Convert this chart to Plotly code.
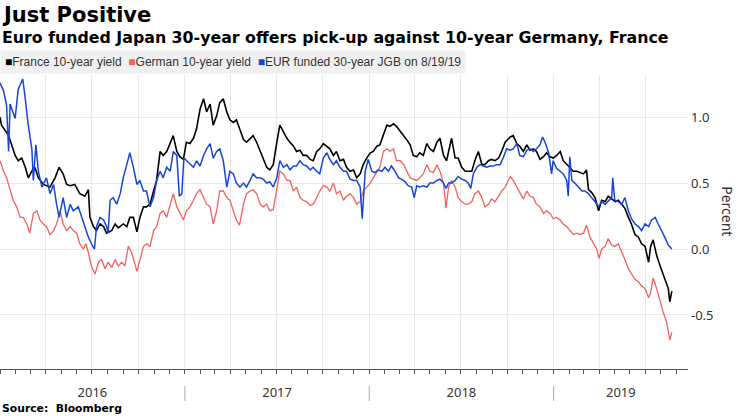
import pandas as pd
import plotly.graph_objects as go

START = pd.Timestamp("2016-01-01")
AXIS_END = pd.Timestamp("2019-09-24")

# day offsets from START, values in percent
fr_days = [0, 3, 10, 17, 23, 30, 36, 43, 50, 56, 63, 69, 76, 86, 99, 109, 117, 125, 132, 139, 148, 158, 168, 175, 178, 185, 191, 198, 205, 211, 221, 228, 234, 244, 251, 257, 264, 271, 277, 284, 290, 297, 304, 310, 317, 323, 330,
           337, 343, 350, 356, 363, 369, 376, 383, 389, 396, 403, 409, 416, 422, 429, 435, 442, 449, 455, 462, 468, 475, 482, 488, 495, 501, 508, 515, 521, 528, 534, 541, 548, 554, 561, 568, 574, 581, 587, 594, 600, 607, 614, 620, 627, 633, 640, 647, 653, 660, 666,
           673, 680, 686, 693, 700, 706, 713, 719, 726, 733, 739, 746, 752, 759, 766, 772, 779, 785, 792, 799, 805, 812, 818, 825, 831, 838, 845, 851, 858, 865, 871, 878, 884, 891, 894, 901, 907, 914, 921, 927, 934, 940, 947, 954, 960, 967, 973, 980, 987, 993, 1000,
           1010, 1016, 1023, 1029, 1036, 1043, 1049, 1056, 1062, 1069, 1076, 1082, 1089, 1095, 1102, 1109, 1115, 1122, 1128, 1135, 1142, 1148, 1155, 1161, 1165, 1171, 1178, 1185, 1191, 1198, 1204, 1211, 1218, 1224, 1231, 1237, 1244, 1250, 1257, 1264, 1270, 1277, 1284, 1288, 1293, 1300, 1307, 1313, 1318, 1323, 1326, 1330]
fr_vals = [1.00, 0.94, 0.90, 0.86, 0.79, 0.71, 0.67, 0.69, 0.62, 0.54, 0.59, 0.62, 0.54, 0.49, 0.47, 0.54, 0.62, 0.57, 0.49, 0.48, 0.49, 0.42, 0.40, 0.45, 0.24, 0.17, 0.14, 0.19, 0.17, 0.12, 0.14, 0.19, 0.16, 0.19, 0.17, 0.24, 0.24, 0.13, 0.24, 0.32, 0.32, 0.34, 0.44, 0.52, 0.74, 0.71, 0.74,
           0.80, 0.86, 0.74, 0.70, 0.68, 0.81, 0.80, 0.84, 0.91, 1.06, 1.14, 1.04, 1.10, 0.94, 1.01, 1.11, 1.14, 1.04, 0.98, 0.96, 0.98, 0.91, 0.83, 0.81, 0.84, 0.86, 0.81, 0.74, 0.69, 0.62, 0.60, 0.64, 0.81, 0.94, 0.89, 0.84, 0.81, 0.78, 0.74, 0.75, 0.71, 0.71, 0.68, 0.67, 0.74, 0.76, 0.80, 0.78, 0.76, 0.71, 0.74,
           0.67, 0.68, 0.62, 0.59, 0.60, 0.54, 0.57, 0.64, 0.69, 0.73, 0.74, 0.78, 0.79, 0.86, 0.94, 0.93, 0.95, 0.93, 0.89, 0.86, 0.83, 0.79, 0.71, 0.70, 0.73, 0.71, 0.80, 0.76, 0.74, 0.81, 0.84, 0.71, 0.67, 0.81, 0.84, 0.69, 0.69, 0.62, 0.59, 0.59, 0.59, 0.67, 0.74, 0.64, 0.64, 0.67, 0.68, 0.67, 0.69, 0.74, 0.81,
           0.85, 0.86, 0.80, 0.78, 0.74, 0.79, 0.75, 0.76, 0.74, 0.68, 0.70, 0.73, 0.70, 0.69, 0.71, 0.74, 0.67, 0.64, 0.62, 0.59, 0.59, 0.58, 0.57, 0.60, 0.45, 0.43, 0.39, 0.29, 0.37, 0.36, 0.40, 0.38, 0.36, 0.37, 0.34, 0.31, 0.24, 0.19, 0.11, 0.09, 0.04, 0.02, -0.10, 0.02, 0.07, -0.05, -0.13, -0.20, -0.25, -0.30, -0.40, -0.32]

de_days = [0, 7, 13, 20, 26, 33, 40, 46, 53, 59, 66, 73, 79, 86, 92, 99, 106, 112, 119, 125, 132, 139, 145, 152, 158, 165, 170, 175, 181, 188, 195, 201, 208, 214, 221, 228, 234, 241, 247, 254, 261, 271, 277, 284, 290, 297, 304, 310, 317, 323, 330,
           337, 343, 350, 356, 363, 369, 376, 383, 389, 396, 403, 409, 416, 422, 429, 435, 442, 449, 455, 462, 468, 474, 482, 488, 495, 501, 508, 515, 521, 528, 534, 541, 548, 554, 561, 568, 574, 581, 587, 594, 600, 607, 614, 620, 627, 633, 640, 647, 653, 660, 666,
           673, 680, 686, 693, 700, 706, 713, 719, 726, 733, 739, 746, 752, 759, 766, 772, 779, 785, 792, 799, 805, 812, 818, 825, 831, 838, 845, 851, 858, 865, 871, 878, 883, 888, 894, 901, 907, 914, 921, 927, 934, 940, 947, 954, 960, 967, 973, 980, 987, 993, 1000,
           1010, 1016, 1023, 1029, 1036, 1043, 1049, 1056, 1062, 1069, 1076, 1082, 1089, 1095, 1102, 1109, 1115, 1122, 1128, 1135, 1142, 1148, 1155, 1161, 1168, 1175, 1181, 1186, 1191, 1198, 1204, 1211, 1217, 1224, 1231, 1237, 1244, 1250, 1257, 1264, 1270, 1277, 1284, 1288, 1293, 1300, 1307, 1313, 1320, 1326, 1330]
de_vals = [0.67, 0.59, 0.54, 0.44, 0.37, 0.32, 0.24, 0.24, 0.19, 0.12, 0.27, 0.29, 0.22, 0.19, 0.17, 0.11, 0.14, 0.19, 0.29, 0.19, 0.14, 0.17, 0.14, 0.12, 0.04, 0.00, 0.04, -0.03, -0.13, -0.19, -0.10, -0.08, -0.15, -0.10, -0.14, -0.08, -0.13, -0.10, -0.13, 0.02, -0.03, -0.17, -0.08, 0.02, 0.04, 0.02, 0.14, 0.17, 0.27, 0.29, 0.24,
           0.34, 0.42, 0.32, 0.27, 0.22, 0.29, 0.32, 0.37, 0.42, 0.45, 0.39, 0.34, 0.32, 0.19, 0.29, 0.44, 0.44, 0.39, 0.37, 0.29, 0.22, 0.18, 0.34, 0.42, 0.44, 0.45, 0.42, 0.34, 0.32, 0.34, 0.29, 0.30, 0.47, 0.59, 0.57, 0.52, 0.52, 0.44, 0.47, 0.39, 0.37, 0.36, 0.33, 0.34, 0.39, 0.44, 0.48, 0.47, 0.44, 0.50, 0.42,
           0.44, 0.37, 0.40, 0.42, 0.39, 0.34, 0.36, 0.44, 0.47, 0.50, 0.54, 0.58, 0.62, 0.74, 0.76, 0.74, 0.76, 0.67, 0.67, 0.64, 0.59, 0.54, 0.53, 0.52, 0.54, 0.57, 0.64, 0.59, 0.58, 0.64, 0.59, 0.50, 0.31, 0.47, 0.52, 0.47, 0.39, 0.36, 0.34, 0.34, 0.36, 0.42, 0.44, 0.39, 0.32, 0.34, 0.38, 0.36, 0.40, 0.44, 0.47,
           0.55, 0.52, 0.47, 0.42, 0.38, 0.44, 0.40, 0.39, 0.34, 0.32, 0.27, 0.29, 0.27, 0.23, 0.24, 0.22, 0.19, 0.17, 0.14, 0.11, 0.12, 0.11, 0.12, 0.18, 0.09, 0.04, 0.00, -0.07, 0.00, 0.02, 0.08, 0.03, 0.02, 0.04, -0.02, -0.08, -0.15, -0.19, -0.23, -0.25, -0.28, -0.30, -0.37, -0.33, -0.22, -0.30, -0.40, -0.48, -0.56, -0.69, -0.63]

jgb_days = [0, 7, 13, 17, 20, 26, 30, 36, 45, 50, 56, 63, 66, 71, 76, 83, 92, 99, 106, 112, 117, 125, 132, 139, 145, 155, 162, 168, 175, 181, 187, 191, 198, 205, 211, 214, 218, 224, 231, 238, 244, 251, 257, 264, 271, 277, 284, 290, 297, 304, 310, 317, 323, 330,
            337, 343, 350, 355, 360, 364, 369, 376, 383, 389, 396, 403, 409, 416, 422, 429, 435, 442, 449, 455, 462, 468, 475, 482, 488, 495, 501, 508, 515, 521, 528, 534, 541, 548, 554, 561, 568, 574, 581, 587, 594, 600, 607, 614, 620, 627, 633, 640, 647, 653, 660, 666,
            673, 680, 686, 693, 700, 706, 713, 717, 723, 729, 736, 742, 749, 756, 762, 769, 775, 782, 789, 795, 802, 808, 815, 820, 825, 831, 838, 845, 851, 858, 865, 871, 878, 883, 888, 894, 901, 907, 914, 921, 927, 932, 937, 944, 950, 957, 964, 970, 977, 983, 990, 996, 1003,
            1010, 1016, 1023, 1029, 1036, 1043, 1049, 1056, 1062, 1069, 1074, 1079, 1086, 1089, 1092, 1095, 1102, 1109, 1115, 1122, 1125, 1128, 1132, 1138, 1145, 1152, 1158, 1165, 1171, 1178, 1185, 1191, 1198, 1204, 1211, 1213, 1217, 1224, 1231, 1237, 1244, 1250, 1257, 1264, 1270, 1277, 1284, 1290, 1297, 1303, 1310, 1316, 1323, 1330]
jgb_vals = [1.26, 1.20, 1.09, 0.74, 1.10, 1.04, 0.99, 1.21, 1.29, 1.14, 0.94, 0.76, 0.52, 0.79, 0.59, 0.47, 0.54, 0.42, 0.49, 0.34, 0.24, 0.39, 0.24, 0.34, 0.29, 0.32, 0.24, 0.17, 0.09, 0.04, 0.00, 0.17, 0.24, 0.22, 0.17, 0.12, 0.37, 0.39, 0.34, 0.42, 0.54, 0.64, 0.73, 0.62, 0.49, 0.52, 0.44, 0.44, 0.32, 0.39, 0.52, 0.59, 0.54, 0.62,
            0.59, 0.74, 0.71, 0.40, 0.42, 0.69, 0.67, 0.64, 0.62, 0.67, 0.63, 0.71, 0.76, 0.80, 0.69, 0.74, 0.76, 0.67, 0.47, 0.59, 0.57, 0.50, 0.47, 0.50, 0.47, 0.52, 0.57, 0.54, 0.54, 0.53, 0.50, 0.51, 0.47, 0.54, 0.67, 0.62, 0.64, 0.60, 0.63, 0.63, 0.67, 0.64, 0.63, 0.60, 0.62, 0.59, 0.57, 0.69, 0.73, 0.68, 0.64, 0.67,
            0.62, 0.59, 0.59, 0.53, 0.52, 0.52, 0.47, 0.23, 0.59, 0.68, 0.59, 0.58, 0.60, 0.59, 0.62, 0.59, 0.63, 0.59, 0.54, 0.53, 0.51, 0.48, 0.47, 0.39, 0.48, 0.47, 0.48, 0.47, 0.50, 0.50, 0.52, 0.53, 0.50, 0.46, 0.50, 0.50, 0.52, 0.55, 0.53, 0.52, 0.50, 0.46, 0.57, 0.62, 0.64, 0.63, 0.62, 0.63, 0.63, 0.64, 0.64, 0.69, 0.76,
            0.75, 0.76, 0.80, 0.71, 0.70, 0.75, 0.76, 0.74, 0.76, 0.79, 0.85, 0.81, 0.73, 0.64, 0.57, 0.67, 0.61, 0.59, 0.57, 0.52, 0.40, 0.70, 0.52, 0.50, 0.47, 0.44, 0.44, 0.42, 0.39, 0.36, 0.32, 0.36, 0.34, 0.36, 0.39, 0.54, 0.37, 0.36, 0.34, 0.39, 0.29, 0.23, 0.19, 0.17, 0.14, 0.19, 0.17, 0.22, 0.24, 0.19, 0.14, 0.09, 0.03, 0.00]

series_names = ["France 10-year yield", "German 10-year yield", "EUR funded 30-year JGB on 8/19/19"]
series_colors = ["#000000", "#f4605c", "#1745d6"]
series_widths = [1.6, 1.3, 1.5]
series_days = [fr_days, de_days, jgb_days]
series_vals = [fr_vals, de_vals, jgb_vals]

years = [2016, 2017, 2018, 2019]
y_ticks = [-0.5, 0.0, 0.5, 1.0]
Y_RANGE = [-0.91, 1.32]

TITLE = "Just Positive"
SUBTITLE = "Euro funded Japan 30-year offers pick-up against 10-year Germany, France"
SOURCE = "Source:  Bloomberg"
Y_TITLE = "Percent"

fig = go.Figure()
for name, color, width, days, vals in zip(series_names, series_colors, series_widths, series_days, series_vals):
    dates = START + pd.to_timedelta(days, unit="D")
    fig.add_trace(go.Scatter(x=dates, y=vals, mode="lines", name=name,
                             line=dict(color=color, width=width), showlegend=False))

# year labels centred on visible part of each year
mids = []
for yr in years:
    a = max(pd.Timestamp(f"{yr}-01-01"), START)
    b = min(pd.Timestamp(f"{yr + 1}-01-01"), AXIS_END)
    mids.append(a + (b - a) / 2)
fig.add_trace(go.Scatter(x=[START, AXIS_END], y=[None, None], xaxis="x2", showlegend=False, hoverinfo="skip"))

label_font = "Noto Sans, Open Sans, sans-serif"
fig.update_layout(
    width=740, height=416,
    margin=dict(l=0, r=52, t=75, b=47),
    plot_bgcolor="white", paper_bgcolor="white",
    showlegend=False,
    xaxis=dict(range=[START, AXIS_END], tick0="2016-01-01", dtick="M3",
               showgrid=True, gridcolor="#e8e8e8", gridwidth=1,
               showticklabels=False, ticks="outside", ticklen=4, tickcolor="#555",
               minor=dict(tickmode="linear", tick0="2016-01-01", dtick="M1", ticks="outside", ticklen=4, tickcolor="#555", showgrid=False),
               showline=True, linecolor="#555", linewidth=1, zeroline=False),
    xaxis2=dict(overlaying="x", anchor="y", side="bottom", range=[START, AXIS_END],
                tickmode="array", tickvals=mids, ticktext=[str(y) for y in years],
                showgrid=False, ticks="", showline=False, zeroline=False,
                ticklabelstandoff=14,
                tickfont=dict(family=label_font, size=13, color="#333")),
    yaxis=dict(range=Y_RANGE, side="right", tickmode="array", tickvals=y_ticks,
               ticktext=[f"{v:.1f}" for v in y_ticks],
               showgrid=True, gridcolor="#e8e8e8", zeroline=False, ticks="", showline=False,
               tickfont=dict(family=label_font, size=13, color="#333"), ticklabelstandoff=2),
)

for yr in years[1:]:
    fig.add_shape(type="line", xref="x", yref="paper", x0=pd.Timestamp(f"{yr}-01-01"), x1=pd.Timestamp(f"{yr}-01-01"),
                  y0=-0.058, y1=-0.109, line=dict(color="#aaa", width=1))

legend_text = "&nbsp;&nbsp;".join(
    f"<span style='color:{c}'>■</span>{n}" for n, c in zip(series_names, series_colors))

fig.add_annotation(text=f"<b>{TITLE}</b>", xref="paper", yref="paper", x=0.0, y=1.204,
                   xanchor="left", yanchor="middle", showarrow=False,
                   font=dict(family="DejaVu Sans", size=21, color="#000"))
fig.add_annotation(text=f"<b>{SUBTITLE}</b>", xref="paper", yref="paper", x=0.0, y=1.129,
                   xanchor="left", yanchor="middle", showarrow=False,
                   font=dict(family="DejaVu Sans", size=15.8, color="#000"))
fig.add_annotation(text=legend_text, xref="paper", yref="paper", x=0.0, y=1.044,
                   xanchor="left", yanchor="middle", showarrow=False, bgcolor="#f0f0f0", borderpad=4,
                   font=dict(family="Liberation Sans Narrow, Arial Narrow, sans-serif", size=12, color="#333"))
fig.add_annotation(text=f"<b>{SOURCE}</b>", xref="paper", yref="paper", x=0.0, y=-0.136,
                   xanchor="left", yanchor="middle", showarrow=False,
                   font=dict(family="DejaVu Sans", size=10.8, color="#000"))
fig.add_annotation(text=Y_TITLE, xref="paper", yref="paper", x=1.058, y=0.537,
                   xanchor="center", yanchor="middle", showarrow=False, textangle=90,
                   font=dict(family=label_font, size=14, color="#333"))

fig.write_html("out.html", config={"displayModeBar": False},
               post_script="document.body.style.margin='0px';")
